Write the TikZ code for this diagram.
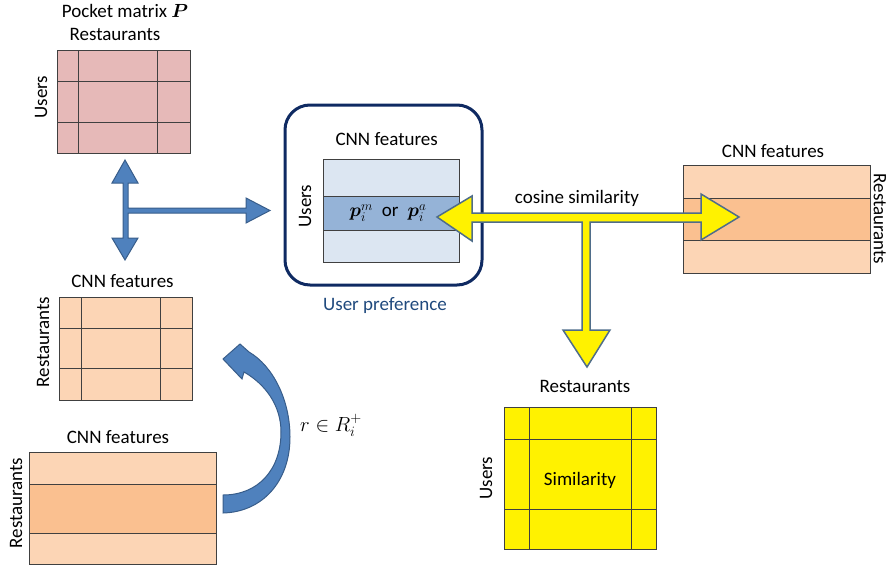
\documentclass[tikz,border=0pt]{standalone}
\usepackage{fix-cm}
\usepackage{amsmath}
\usepackage{fontspec}
\setmainfont{Carlito}
\definecolor{pinkfill}{HTML}{E6B9B8}
\definecolor{orlight}{HTML}{FCD5B5}
\definecolor{ormid}{HTML}{FAC090}
\definecolor{bllight}{HTML}{DCE6F2}
\definecolor{blmid}{HTML}{95B3D7}
\definecolor{arrblue}{HTML}{4F81BD}
\definecolor{arrblueedge}{HTML}{385D8A}
\definecolor{yeledge}{HTML}{4F6D8A}
\definecolor{navy}{HTML}{0F2A62}
\definecolor{prefblue}{HTML}{1F497D}
\definecolor{gridcol}{HTML}{404040}
\tikzset{
  lbl/.style={font=\fontsize{19}{22}\selectfont, inner sep=0pt, anchor=base},
  rlbl/.style={font=\fontsize{19}{22}\selectfont, inner sep=0pt, rotate=90},
  matbox/.style={draw=gridcol, line width=0.9pt, inner sep=0pt, outer sep=0pt},
  gridline/.style={draw=gridcol, line width=0.9pt},
  bluearrow/.style={fill=arrblue, draw=arrblueedge, line width=1pt, line join=miter},
  yelarrow/.style={fill=yellow, draw=yeledge, line width=1.5pt, line join=miter},
}
\begin{document}
\begin{tikzpicture}[x=1pt,y=-1pt]
\useasboundingbox (0,0) rectangle (888,570);
\clip (0,0) rectangle (888,570);

% ---------- Pocket matrix P ----------
\node[lbl] (ptitle) at (125,17) {Pocket matrix $\boldsymbol{P}$};
\node[lbl] (prest) at (115,40) {Restaurants};
\node[rlbl] (pusers) at (41,97) {Users};
\node[matbox, fill=pinkfill, minimum width=133pt, minimum height=103pt] (P) at (123.5,101.5) {};
\draw[gridline] (78,50) -- (78,153) (157,50) -- (157,153)
                (57,81) -- (190,81) (57,122) -- (190,122);

% ---------- blue cross arrow ----------
\draw[bluearrow] (125,160) -- (138,183) -- (128,183) -- (128,208) -- (246,208) -- (246,198)
  -- (270,210.5) -- (246,223) -- (246,213) -- (128,213) -- (128,238) -- (138,238)
  -- (125,260) -- (112,238) -- (123,238) -- (123,183) -- (112,183) -- cycle;

% ---------- middle-left CNN features ----------
\node[lbl] (mtitle) at (122.5,287) {CNN features};
\node[rlbl] (mrest) at (43,342) {Restaurants};
\node[matbox, fill=orlight, minimum width=133pt, minimum height=103pt] (M) at (125.5,348.5) {};
\draw[gridline] (81,297) -- (81,400) (160,297) -- (160,400)
                (59,328) -- (192,328) (59,368) -- (192,368);

% ---------- bottom CNN features ----------
\node[lbl] (btitle) at (118,443) {CNN features};
\node[rlbl] (brest) at (16,503) {Restaurants};
\node[matbox, fill=orlight, minimum width=187pt, minimum height=112pt] (B) at (122.5,508) {};
\fill[ormid] (29,484) rectangle (216,533);
\draw[gridline] (29,484) -- (216,484) (29,533) -- (216,533);
\draw[gridcol, line width=0.9pt] (29,452) rectangle (216,564);

% ---------- curved arrow ----------
\draw[bluearrow] (223,513) .. controls (262,512) and (290,482) .. (290,437)
  .. controls (290,400) and (273,366) .. (249,352)
  -- (240,344) -- (223,359) -- (242,379) -- (244,372)
  .. controls (265,384) and (281,405) .. (281,432)
  .. controls (281,470) and (258,495) .. (223,495) -- cycle;
\node[lbl, font=\fontsize{20.5}{24}\selectfont] (rlabel) at (331,431) {$r \in R_i^{+}$};

% ---------- user preference ----------
\node[draw=navy, line width=3pt, rounded corners=25pt, minimum width=197pt, minimum height=180pt, inner sep=0pt] (U) at (383.5,195) {};
\node[lbl] (utitle) at (386.7,145) {CNN features};
\node[rlbl] (uusers) at (305,206) {Users};
\node[matbox, fill=bllight, minimum width=136pt, minimum height=103pt] (UM) at (391,210.5) {};
\fill[blmid] (323,196) rectangle (459,230);
\draw[gridline] (323,196) -- (459,196) (323,230) -- (459,230);
\draw[gridcol, line width=0.9pt] (323,159) rectangle (459,262);
\node[font=\fontsize{19}{22}\selectfont, inner sep=0pt] (pvec) at (388,213) {$\boldsymbol{p}_i^m$\hspace{9pt}or\hspace{9pt}$\boldsymbol{p}_i^a$};
\node[lbl, text=prefblue] (upref) at (385,310) {User preference};

% ---------- right CNN features ----------
\node[lbl] (rtitle) at (773,157) {CNN features};
\node[font=\fontsize{19}{22}\selectfont, inner sep=0pt, rotate=-90] (rrest) at (880,219) {Restaurants};
\node[matbox, fill=orlight, minimum width=187pt, minimum height=108pt] (R) at (776.5,219) {};
\fill[ormid] (683,198) rectangle (870,240);
\draw[gridline] (683,198) -- (870,198) (683,240) -- (870,240);
\draw[gridcol, line width=0.9pt] (683,165) rectangle (870,273);

% ---------- similarity ----------
\node[lbl] (stitle) at (585,392) {Restaurants};
\node[rlbl] (susers) at (486,478) {Users};
\node[matbox, fill=yellow, minimum width=152pt, minimum height=142pt] (S) at (580,478) {};
\draw[gridline] (529,407) -- (529,549) (631,407) -- (631,549)
                (504,439) -- (656,439) (504,509) -- (656,509);
\node[lbl] (sim) at (580,485) {Similarity};

% ---------- yellow arrows ----------
\draw[yelarrow] (437,217) -- (472,196) -- (472,213) -- (701,213) -- (701,194) -- (739,217)
  -- (701,240) -- (701,222) -- (590,222) -- (590,330) -- (610,330) -- (587,367)
  -- (563,330) -- (582,330) -- (582,222) -- (472,222) -- (472,241) -- cycle;
\node[lbl] (cos) at (577,203) {cosine similarity};
\end{tikzpicture}
\end{document}
